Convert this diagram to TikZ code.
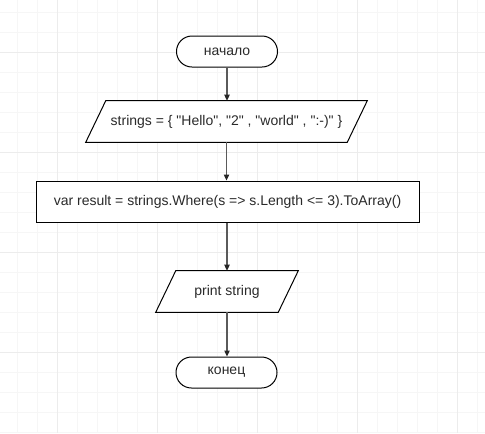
\documentclass[tikz,border=0pt]{standalone}
\usepackage{fontspec}
\newfontfamily\plainfont{Liberation Sans}
\usetikzlibrary{arrows.meta}
\definecolor{gridminor}{HTML}{F6F6F6}
\definecolor{gridmajor}{HTML}{ECECEC}
\definecolor{txt}{HTML}{2A2A2A}
\definecolor{connclr}{HTML}{5A5A5A}
\begin{document}
\begin{tikzpicture}[x=0.75pt,y=-0.75pt,
  every node/.style={font=\plainfont\fontsize{10.5}{12}\selectfont, text=txt},
  terminal/.style={draw=black, line width=0.75pt, rounded corners=11.6pt, minimum width=75.75pt, minimum height=23.25pt, inner sep=0pt},
  procbox/.style={draw=black, line width=0.75pt, minimum width=287.25pt, minimum height=30.75pt, inner sep=0pt},
  iobox/.style={minimum height=30.75pt, inner sep=0pt},
  ioshape/.style={draw=black, line width=0.75pt},
  connector/.style={draw=connclr, line width=0.9pt, -{Triangle[length=4.5pt,width=4pt,color=black!85]}}]
\useasboundingbox (0,0) rectangle (485,433);
\fill[white] (0,0) rectangle (485,433);
% grid
\foreach \x in {17,37,...,477} \draw[gridminor, line width=0.75pt] (\x,0) -- (\x,433);
\foreach \y in {12,32,...,432} \draw[gridminor, line width=0.75pt] (0,\y) -- (485,\y);
\foreach \x in {57,157,257,357,457} \draw[gridmajor, line width=0.75pt] (\x,0) -- (\x,433);
\foreach \y in {52,152,252,352} \draw[gridmajor, line width=0.75pt] (0,\y) -- (485,\y);
% nodes
\node[terminal, fill=white] (start) at (227,51.5) {начало};
\node[iobox, minimum width=195.75pt] (in) at (226.5,121.5) {};
\filldraw[ioshape, fill=white] ([xshift=7.5pt]in.north west) -- ([xshift=7.5pt]in.north east) -- ([xshift=-7.5pt]in.south east) -- ([xshift=-7.5pt]in.south west) -- cycle;
\node at (in.center) {strings = \{ "Hello", "2" , "world" , ":-)" \}};
\node[procbox, fill=white] (proc) at (227.5,201.5) {var result = strings.Where(s => s.Length <= 3).ToArray()};
\node[iobox, minimum width=91.5pt] (out) at (227,291.5) {};
\filldraw[ioshape, fill=white] ([xshift=7.5pt]out.north west) -- ([xshift=7.5pt]out.north east) -- ([xshift=-7.5pt]out.south east) -- ([xshift=-7.5pt]out.south west) -- cycle;
\node at (out.center) {print string};
\node[terminal, fill=white] (end) at (226.5,372.5) {конец};
% connectors
\draw[connector] (start.south) -- (start.south |- in.north);
\draw[connector] (in.south) -- (in.south |- proc.north);
\draw[connector] (proc.south -| out.north) -- (out.north);
\draw[connector] (out.south) -- (out.south |- end.north);
\end{tikzpicture}
\end{document}
